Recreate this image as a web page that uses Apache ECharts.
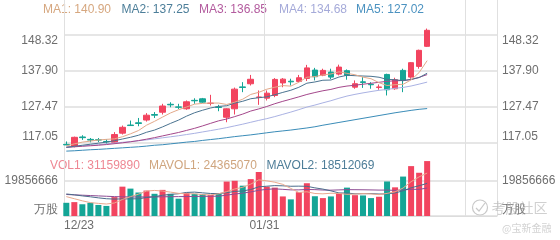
<!DOCTYPE html>
<html><head><meta charset="utf-8">
<script src="https://cdn.jsdelivr.net/npm/echarts@6/dist/echarts.min.js"></script>
<style>html,body{margin:0;padding:0;background:#fff}#c{width:560px;height:240px}</style>
</head><body><div id="c"></div>
<script>
// ---------- data ----------
const dates = ['12/23','12/24','12/26','12/27','12/30','12/31','01/02','01/03','01/06','01/07','01/08','01/10','01/13','01/14','01/15','01/16','01/17','01/21','01/22','01/23','01/24','01/27','01/28','01/29','01/30','01/31','02/03','02/04','02/05','02/06','02/07','02/10','02/11','02/12','02/13','02/14','02/18','02/19','02/20','02/21','02/24','02/25','02/26','02/27','02/28','03/03'];
const slotCount = 54;
const open  = [116.65,116.1,118.8,118.1,118.0,117.5,117.25,119.9,122.25,122.9,123.7,125.3,125.96,128.26,127.5,126.95,129.4,129.85,128.5,127.5,124.5,126.95,133.3,134.2,130.26,130.03,130.8,134.44,134.94,134.88,135.75,138.16,136.7,137.58,137.0,137.98,133.22,134.76,134.07,133.13,136.9,132.76,138.07,136.13,139.23,145.04];
const close = [116.5,118.7,118.6,117.9,117.9,117.4,119.5,121.6,122.1,122.7,125.1,125.1,127.76,128.1,127.4,128.98,129.27,128.87,128.6,127.33,126.95,132.64,133.13,135.5,130.37,131.48,135.46,135.54,134.76,135.95,138.8,136.24,138.07,136.13,139.03,136.62,134.21,134.59,133.92,133.28,132.47,135.37,135.17,140.31,143.88,149.68];
const low   = [116.4,115.8,117.95,117.25,117.3,116.8,116.8,119.5,122.0,121.9,123.25,124.3,125.3,127.4,126.9,126.66,128.4,128.6,127.9,126.25,123.06,125.3,131.77,133.7,128.1,129.36,130.32,133.2,133.7,134.6,135.0,135.17,136.4,135.54,136.62,135.37,132.76,133.01,132.76,132.47,130.81,132.47,131.77,135.66,138.56,144.84];
const high  = [117.5,118.9,119.3,118.5,118.5,118.1,120.2,122.1,123.55,124.3,125.7,126.0,128.4,128.85,128.4,129.36,130.0,130.1,131.0,128.1,127.1,133.1,134.67,136.76,132.26,132.26,135.84,135.84,135.66,136.76,139.67,138.8,138.56,138.56,139.73,138.36,135.17,136.13,134.67,134.01,137.11,135.95,138.56,140.48,144.08,150.18];
const ma1 = [116.2,116.8,117.3,117.6,117.92,118.1,118.26,118.86,119.7,120.66,122.2,123.32,124.55,125.75,126.69,127.47,128.3,128.52,128.62,128.61,128.2,128.88,129.73,131.11,131.72,132.62,133.19,133.67,133.52,134.64,136.1,136.26,136.76,137.04,137.65,137.22,136.81,136.12,135.67,134.52,133.69,133.93,134.04,135.32,137.44,140.90];
const ma2 = [115.8,116.1,116.4,116.7,117.0,117.3,117.7,118.2,118.7,119.29,120.15,120.79,121.71,122.73,123.68,124.83,125.81,126.54,127.19,127.65,127.84,128.59,129.13,129.87,130.16,130.41,131.03,131.70,132.32,133.18,134.36,134.72,135.22,135.28,136.15,136.66,136.54,136.44,136.36,136.09,135.46,135.37,135.08,135.50,135.98,137.25];
const ma3 = [115.8,115.95,116.1,116.25,116.4,116.6,116.85,117.1,117.4,117.75,118.15,118.6,119.1,119.6,120.1,120.7,121.3,122.0,122.75,123.47,123.99,124.69,125.42,126.30,126.92,127.62,128.42,129.12,129.75,130.41,131.10,131.66,132.17,132.57,133.16,133.54,133.78,134.07,134.34,134.63,134.91,135.05,135.15,135.39,136.06,136.85];
const ma4 = [115.85,116.0,116.2,116.4,116.55,116.8,117.05,117.25,117.45,117.7,117.95,118.25,118.55,118.85,119.15,119.5,119.85,120.25,120.65,121.05,121.5,122.0,122.5,123.05,123.6,124.1,124.7,125.35,126.0,126.71,127.45,128.03,128.68,129.29,130.0,130.64,131.13,131.56,131.95,132.31,132.55,132.89,133.14,133.55,134.10,134.68];
const ma5 = [114.7,114.8,114.95,115.1,115.2,115.35,115.5,115.65,115.8,115.95,116.15,116.4,116.55,116.8,117.05,117.3,117.5,117.8,118.05,118.3,118.6,118.9,119.15,119.4,119.7,120.0,120.3,120.55,120.8,121.1,121.4,121.75,122.2,122.6,123.0,123.4,123.8,124.2,124.6,125.0,125.4,125.8,126.15,126.5,126.8,127.02];
const volume = [7490000,7880000,6660000,7490000,6270000,5720000,10710000,16650000,15540000,13320000,14430000,12600000,14820000,12600000,9820000,13150000,12600000,12380000,11930000,12770000,19540000,19980000,17200000,20920000,24980000,16650000,16100000,11100000,9440000,13490000,18590000,11210000,10160000,11100000,12930000,16100000,11820000,11660000,10160000,10930000,19590000,16260000,22370000,28300000,24530000,31159890];
const mavol1 = [11000000,9800000,8600000,7600000,7160000,6800000,7370000,9370000,10980000,12390000,14130000,14510000,14140000,13550000,12850000,12600000,12600000,12110000,11980000,12570000,13840000,15320000,16280000,18080000,20520000,19950000,19170000,17950000,15650000,13360000,13740000,12770000,12580000,12910000,12800000,12300000,12420000,12720000,12530000,12130000,12830000,13720000,15860000,19490000,22210000,24365070];
const mavol2 = [12500000,12000000,11400000,10900000,10300000,9800000,9600000,9700000,9700000,9770000,10470000,10940000,11760000,12270000,12620000,13360000,13550000,13130000,12770000,12710000,13220000,13960000,14200000,15030000,16550000,16900000,17250000,17120000,16870000,16940000,16850000,15970000,15260000,14280000,13080000,13020000,12590000,12650000,12720000,12470000,12570000,13070000,14290000,16010000,17170000,18512069];
const mavol3 = [12200000,12000000,11800000,11600000,11400000,11200000,11000000,10900000,10800000,10800000,10800000,10850000,10900000,10950000,11000000,11050000,11100000,11150000,11200000,11240000,11840000,12450000,12980000,13650000,14580000,15130000,15400000,15120000,14820000,14830000,15030000,14960000,14730000,14660000,14810000,14960000,14920000,14880000,14800000,14700000,14710000,14520000,14780000,15150000,15120000,15850000];
const priceTicks = [117.05, 127.47, 137.90, 148.32];
const volTicks = [0, 19856666];
const volUnit = '万股';
const maNames = ['MA1','MA2','MA3','MA4','MA5'];
const maLast = ['140.90','137.25','136.85','134.68','127.02'];
const volNames = ['VOL1','MAVOL1','MAVOL2'];
const volLast = ['31159890','24365070','18512069'];
const watermark = ['考股社区','@宝新金融'];

// ---------- style ----------
const UP = '#f2445f', DOWN = '#14a596';
const FONT = '"Liberation Sans", Arial, sans-serif';
const CJK = '"Noto Sans CJK SC", sans-serif';
const LABEL = '#6e6e6e';
const maLine = ['#e3a98a','#4a7390','#a4478b','#aab2e3','#3a8cb8'];
const maText = ['#d6a77f','#4c7e99','#b35b9e','#a5aad9','#4b92c0'];
const volText = ['#ee8793','#cfa57e','#4d7d98'];
const volLine = ['#eaa98e','#4b6c8b','#8e4d94'];

const cats = Array.from({length: slotCount}, (_, i) => dates[i] !== undefined ? dates[i] : ('_' + i));
const pMin = priceTicks[0], pMax = priceTicks[priceTicks.length - 1];
const pInt = (pMax - pMin) / (priceTicks.length - 1);
const vMax = volTicks[1];

const chart = echarts.init(document.getElementById('c'), null, {renderer: 'canvas'});

const priceAxis = (pos, withSplit, margin) => ({
  gridIndex: 1, type: 'value', position: pos, min: pMin, max: pMax, interval: pInt,
  axisLine: {show: false}, axisTick: {show: false},
  splitLine: {show: withSplit, lineStyle: {color: '#e6e6e6', width: 2}},
  axisLabel: {formatter: v => v.toFixed(2), color: LABEL, fontSize: 12, fontFamily: FONT, margin: margin,
    verticalAlignMinLabel: 'bottom', verticalAlignMaxLabel: 'top'}
});
const volAxis = (pos, withSplit, margin) => ({
  gridIndex: 3, type: 'value', position: pos, min: 0, max: vMax, interval: vMax,
  axisLine: {show: false}, axisTick: {show: false},
  splitLine: {show: withSplit, lineStyle: {color: '#e6e6e6', width: 2}},
  axisLabel: {formatter: v => v === 0 ? volUnit : String(Math.round(v)), color: LABEL, fontSize: 12,
    fontFamily: FONT, margin: margin, verticalAlignMinLabel: 'bottom',
    rich: {}}
});

const lineSeries = (data, color, xi, yi) => ({
  type: 'line', data: data, xAxisIndex: xi, yAxisIndex: yi, symbol: 'none', clip: false,
  lineStyle: {width: 1, color: color}, itemStyle: {color: color}, z: 3, silent: true
});

const graphic = [];
const maX = [43, 121.5, 199, 279, 356];
maNames.forEach((n, i) => graphic.push({type: 'text', x: maX[i], y: 9.5,
  style: {text: n + ': ' + maLast[i], fill: maText[i], fontSize: 12, fontFamily: FONT, verticalAlign: 'middle'}}));
const volX = [50, 149, 266.5];
volNames.forEach((n, i) => graphic.push({type: 'text', x: volX[i], y: 166,
  style: {text: n + ': ' + volLast[i], fill: volText[i], fontSize: 12, fontFamily: FONT, verticalAlign: 'middle'}}));
graphic.push({type: 'circle', shape: {cx: 480, cy: 207.5, r: 7.5}, style: {stroke: '#c9c9c9', fill: 'none', lineWidth: 1.2}, z: 100});
graphic.push({type: 'polyline', shape: {points: [[476, 208], [479, 211], [485, 203]]}, style: {stroke: '#c9c9c9', fill: 'none', lineWidth: 1.2}, z: 100});
graphic.push({type: 'text', x: 491.5, y: 208, z: 100,
  style: {text: watermark[0], fill: 'rgba(170,170,170,0.55)', fontSize: 14, fontFamily: CJK, verticalAlign: 'middle'}});
graphic.push({type: 'text', x: 502, y: 228, z: 100,
  style: {text: watermark[1], fill: 'rgba(180,180,180,0.6)', fontSize: 10, fontFamily: CJK, verticalAlign: 'middle'}});

chart.setOption({
  animation: false,
  backgroundColor: '#fff',
  grid: [
    {left: 64, right: 63, top: 0, bottom: 24},
    {left: 64, right: 63, top: 35, height: 108},
    {left: 62.3, right: 64.7, top: 35, height: 108},
    {left: 64, right: 63, top: 181, height: 35},
    {left: 62.3, right: 64.7, top: 181, height: 35}
  ],
  xAxis: [
    {gridIndex: 0, type: 'value', min: 0, max: slotCount, interval: 25,
      axisLine: {show: true, onZero: false, lineStyle: {color: '#dcdcdc', width: 1}}, axisTick: {show: false},
      splitLine: {show: true, lineStyle: {color: '#e0e0e0', width: 1}},
      axisLabel: {formatter: v => (Number.isInteger(v) && dates[v]) ? dates[v] : '', color: LABEL, fontSize: 12,
        fontFamily: FONT, margin: 4, alignMinLabel: 'left'}},
    {gridIndex: 1, type: 'value', show: false, min: 0, max: 1},
    {gridIndex: 2, type: 'category', data: cats, show: false, boundaryGap: true},
    {gridIndex: 3, type: 'value', show: false, min: 0, max: 1},
    {gridIndex: 4, type: 'category', data: cats, show: false, boundaryGap: true}
  ],
  yAxis: [
    {gridIndex: 0, type: 'value', show: false, min: 0, max: 1},
    priceAxis('left', true, 6),
    priceAxis('right', false, 5),
    {gridIndex: 2, type: 'value', show: false, min: pMin, max: pMax},
    volAxis('left', true, 6),
    volAxis('right', false, 5),
    {gridIndex: 4, type: 'value', show: false, min: 0, max: vMax}
  ],
  graphic: graphic,
  series: [
    {type: 'candlestick', xAxisIndex: 2, yAxisIndex: 3, clip: false, barWidth: 6,
      data: open.map((o, i) => [o, close[i], low[i], high[i]]),
      itemStyle: {color: UP, color0: DOWN, borderColor: UP, borderColor0: DOWN, borderWidth: 1}},
    lineSeries(ma5, maLine[4], 2, 3),
    lineSeries(ma4, maLine[3], 2, 3),
    lineSeries(ma3, maLine[2], 2, 3),
    lineSeries(ma2, maLine[1], 2, 3),
    lineSeries(ma1, maLine[0], 2, 3),
    {type: 'bar', xAxisIndex: 4, yAxisIndex: 6, clip: false, barWidth: 6,
      data: volume.map((v, i) => ({value: v, itemStyle: {color: close[i] >= open[i] ? UP : DOWN}}))},
    lineSeries(mavol3, volLine[2], 4, 6),
    lineSeries(mavol2, volLine[1], 4, 6),
    lineSeries(mavol1, volLine[0], 4, 6)
  ]
});
</script>
</body></html>
